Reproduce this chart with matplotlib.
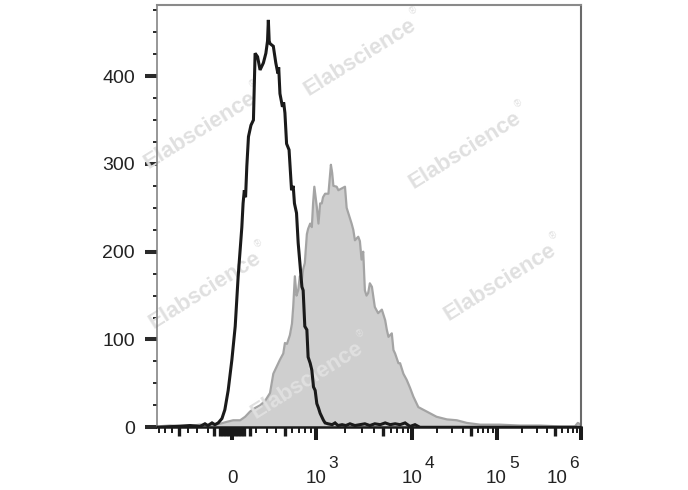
import numpy as np
import matplotlib
matplotlib.use("Agg")
import matplotlib.pyplot as plt

plt.rcParams['font.family'] = ['Liberation Sans', 'DejaVu Sans']

# ---------------- data (display channel 0..1024 on a biexponential axis) -------------
black_ch = [0, 45, 81, 105, 117, 124, 134, 141, 149, 158, 165, 173, 182, 190, 197, 206,
            209, 212, 215, 218, 222, 228, 234, 238, 244, 250, 258, 264, 268, 270, 272,
            274, 282, 288, 293, 295, 298, 304, 307, 310, 314, 320, 326, 330, 333, 338,
            342, 351, 354, 358, 363, 366, 371, 375, 379, 383, 387, 391, 395, 399, 403,
            407, 414, 424, 431, 438, 448, 457, 467, 479, 491, 503, 515, 527, 540, 552,
            564, 576, 588, 600, 612, 624, 636, 1024]
black_counts = [0, 1, 2, 1, 4, 2, 5, 3, 5, 10, 20, 42, 77, 115, 171, 228,
                255, 270, 262, 297, 331, 344, 350, 426, 422, 407, 415, 426, 440, 464, 440,
                437, 434, 415, 403, 410, 380, 365, 370, 358, 323, 316, 270, 275, 255, 244,
                210, 160, 156, 115, 111, 80, 73, 65, 46, 42, 27, 22, 16, 12, 8,
                5, 4, 3, 5, 2, 3, 2, 4, 2, 3, 4, 2, 4, 3, 5,
                3, 4, 3, 5, 1, 3, 0, 0]

gray_ch = [1, 33, 69, 105, 129, 153, 168, 185, 202, 214, 226, 238, 250, 262, 274, 278,
           282, 291, 298, 306, 310, 315, 322, 327, 330, 334, 338, 342, 346, 351, 354,
           358, 363, 366, 371, 375, 378, 381, 387, 391, 395, 399, 402, 407, 415, 421,
           424, 427, 435, 439, 447, 455, 459, 463, 471, 475, 479, 487, 491, 495, 499,
           503, 507, 511, 515, 520, 527, 535, 544, 552, 556, 560, 568, 572, 576, 584,
           588, 596, 604, 612, 620, 632, 636, 644, 660, 676, 701, 725, 749, 781, 829,
           877, 926, 974, 1010, 1017, 1024]
gray_counts = [1, 2, 1, 3, 2, 4, 6, 8, 8, 12, 18, 22, 25, 30, 39, 50,
               61, 70, 77, 84, 96, 95, 105, 118, 137, 172, 150, 156, 172, 168, 180,
               187, 220, 226, 232, 228, 255, 274, 251, 232, 255, 255, 262, 266, 266, 299,
               290, 275, 274, 270, 272, 274, 250, 244, 232, 225, 213, 217, 212, 191, 200,
               156, 150, 153, 164, 160, 137, 130, 134, 122, 111, 103, 107, 88, 84, 73,
               73, 61, 54, 45, 35, 23, 22, 20, 16, 12, 9, 8, 5, 3, 3,
               2, 2, 1, 1, 5, 3]

y_major = [0, 100, 200, 300, 400]
y_labels = ['0', '100', '200', '300', '400']
x_major_vals = [0, 1e3, 1e4, 1e5, 1e6]
x_major_base = ['0', '10', '10', '10', '10']
x_major_sup = ['', '3', '4', '5', '6']
x_mid_vals = [-500, -150, -100, -75, -50, -25, 25, 50, 75, 100, 150, 500, 5e3, 5e4, 5e5]
x_minor_vals = ([-800, -700, -600, -400, -300, -200, 200, 300, 400, 600, 700, 800, 900]
                + [k * 1e3 for k in (2, 3, 4, 6, 7, 8, 9)]
                + [k * 1e4 for k in (2, 3, 4, 6, 7, 8, 9)]
                + [k * 1e5 for k in (2, 3, 4, 6, 7, 8, 9)])


# ---------------- biexponential display scale: value -> channel -------------
def fl_to_ch(v):
    v = np.asarray(v, dtype=float)
    lin = 182.3 + 126.3 * np.arcsinh(v / 420.0)
    logp = np.interp(np.log10(np.maximum(v, 1e3)), [3, 4, 5, 6],
                     [385.0, 616.8, 820.8, 1024.0])
    return np.where(v <= 1e3, lin, logp)


W, H = 688, 490
fig = plt.figure(figsize=(W / 100, H / 100), dpi=100)
L, R, T, B = 156.5, 580.7, 5.5, 427.3
ax = fig.add_axes([L / W, 1 - B / H, (R - L) / W, (B - T) / H])

ax.fill_between(gray_ch, gray_counts, 0, color='#cfcfcf', lw=0, zorder=1)
ax.plot(gray_ch, gray_counts, color='#a4a4a4', lw=1.6, zorder=1.2)
ax.plot(black_ch, black_counts, color='#1a1a1a', lw=2.2, zorder=3,
        solid_joinstyle='miter')

ax.set_xlim(0, 1024)
ax.set_ylim(0, 480.4)

# spines
for side, col, lw in [('top', '#8a8a8a', 1.5), ('right', '#6a6a6a', 1.5),
                      ('left', '#7a7a7a', 1.1), ('bottom', '#1a1a1a', 1.8)]:
    ax.spines[side].set_color(col)
    ax.spines[side].set_linewidth(lw)

# y ticks
ax.set_yticks(y_major)
ax.set_yticklabels(y_labels, fontsize=14, color='#222222')
ax.set_yticks(np.arange(0, 480, 25), minor=True)
ax.tick_params(axis='y', which='major', length=8.6, width=2.9, pad=6.8, color='#2a2a2a')
ax.tick_params(axis='y', which='minor', length=3.2, width=1.4, color='#2a2a2a')

# x ticks
ax.set_xticks(fl_to_ch(x_major_vals))
ax.set_xticklabels([''] * len(x_major_vals))
ax.set_xticks(fl_to_ch(x_minor_vals), minor=True)
ax.tick_params(axis='x', which='major', length=9.4, width=2.9, color='#1a1a1a')
ax.tick_params(axis='x', which='minor', length=4.3, width=1.4, color='#1a1a1a')
sec = ax.secondary_xaxis('bottom')
sec.set_xticks(fl_to_ch(x_mid_vals))
sec.set_xticklabels([''] * len(x_mid_vals))
sec.tick_params(axis='x', length=6.8, width=2.4, color='#1a1a1a')
sec.spines['bottom'].set_visible(False)

# x tick labels: base "10" centred on tick, exponent raised to the right
for val, base, sup in zip(x_major_vals, x_major_base, x_major_sup):
    c = float(fl_to_ch(val))
    dx = -24 if val == 1e6 else 0
    ax.annotate(base, xy=(c, 0), xycoords=('data', 'axes fraction'),
                xytext=(dx, -55.5), textcoords='offset pixels',
                ha='center', va='baseline', fontsize=13.5, color='#222222',
                annotation_clip=False)
    if sup:
        ax.annotate(sup, xy=(c, 0), xycoords=('data', 'axes fraction'),
                    xytext=(dx + 12.5, -40.5), textcoords='offset pixels',
                    ha='left', va='baseline', fontsize=12.5, color='#222222',
                    annotation_clip=False)

# watermarks
ang = 32
ca, sa = np.cos(np.radians(ang)), np.sin(np.radians(ang))
for cx, cy in [(360, 57), (200, 130), (465, 150), (205, 290), (500, 282), (307, 380)]:
    ax.text(cx / W, 1 - cy / H, 'Elabscience', transform=fig.transFigure,
            rotation=ang, rotation_mode='anchor', ha='center', va='center',
            fontsize=16, fontweight='bold', color='#e0e0e0', zorder=2,
            clip_on=False)
    ox = 70 * ca - 11 * sa
    oy = 70 * sa + 11 * ca
    ax.text((cx + ox) / W, 1 - (cy - oy) / H, '®', transform=fig.transFigure,
            rotation=ang, rotation_mode='anchor', ha='center', va='center',
            fontsize=7, color='#e0e0e0', zorder=2, clip_on=False)

fig.savefig('out.png', dpi=100)
